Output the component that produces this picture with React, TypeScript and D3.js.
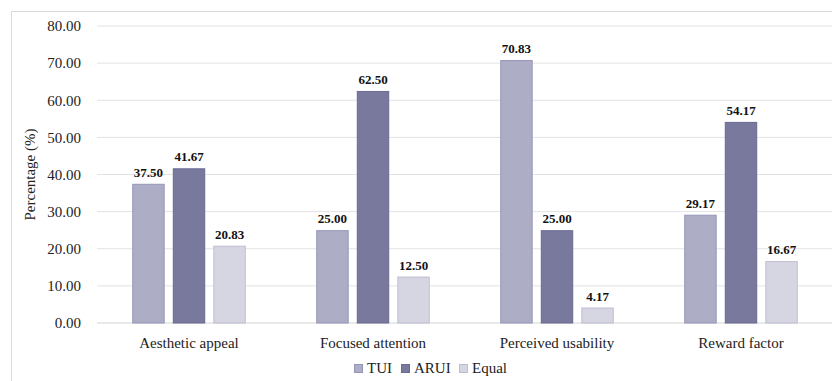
import React from "react";
import * as d3 from "d3";

const categories = ["Aesthetic appeal", "Focused attention", "Perceived usability", "Reward factor"];
const seriesNames = ["TUI", "ARUI", "Equal"];
const tuiValues = [37.5, 25.0, 70.83, 29.17];
const aruiValues = [41.67, 62.5, 25.0, 54.17];
const equalValues = [20.83, 12.5, 4.17, 16.67];
const yTicks = [0, 10, 20, 30, 40, 50, 60, 70, 80];

const fills = ["#adadc6", "#79799e", "#d6d6e3"];
const strokes = ["#9595b8", "#6a6a92", "#bdbdd2"];

const W = 832;
const H = 381;
const FONT = "Liberation Serif, DejaVu Serif, serif";

export default function App() {
  const left = 97;
  const right = 833;
  const top = 26;
  const bottom = 323;

  const x = d3.scaleBand<string>().domain(categories).range([left, right]).paddingInner(0).paddingOuter(0);
  const y = d3.scaleLinear().domain([0, 80]).range([bottom, top]);
  const inner = d3
    .scaleBand<string>()
    .domain(seriesNames)
    .range([0, 113.5])
    .paddingInner(0.2)
    .paddingOuter(0);

  const series = [tuiValues, aruiValues, equalValues];

  const legendItems = [
    { name: "TUI", x: 354 },
    { name: "ARUI", x: 401 },
    { name: "Equal", x: 459 },
  ];

  return (
    <svg width={W} height={H} style={{ position: "absolute", left: 0, top: 0, background: "#fff", fontFamily: FONT }}>
      <rect x={11.5} y={11.5} width={W + 10} height={H + 10} fill="#fff" stroke="#d9d9d9" />
      {yTicks.map((t) => (
        <g key={t}>
          <line x1={left} x2={right} y1={y(t)} y2={y(t)} stroke={t === 0 ? "#d4d4d4" : "#e2e2e2"} strokeWidth={1} />
          <text x={81} y={y(t)} dy="0.35em" textAnchor="end" style={{ fontFamily: FONT }} fontSize={15} fill="#222">
            {t.toFixed(2)}
          </text>
        </g>
      ))}
      <text
        transform={`translate(30,${(top + bottom) / 2}) rotate(-90)`}
        textAnchor="middle"
        dy="0.35em"
        style={{ fontFamily: FONT }}
        fontSize={15}
        fill="#222"
      >
        Percentage (%)
      </text>
      {categories.map((c, ci) => {
        const cx = (x(c) as number) + x.bandwidth() / 2;
        const gx = cx - 113.5 / 2;
        return (
          <g key={c}>
            {seriesNames.map((s, si) => {
              const v = series[si][ci];
              const bx = gx + (inner(s) as number);
              const bw = inner.bandwidth();
              return (
                <g key={s}>
                  <rect
                    x={bx + 0.5}
                    y={y(v) + 0.5}
                    width={bw - 1}
                    height={y(0) - y(v) - 0.5}
                    fill={fills[si]}
                    stroke={strokes[si]}
                    strokeWidth={1}
                  />
                  <text
                    x={bx + bw / 2}
                    y={y(v) - 7}
                    textAnchor="middle"
                    style={{ fontFamily: FONT }}
                    fontSize={13}
                    fontWeight="bold"
                    fill="#111"
                  >
                    {v.toFixed(2)}
                  </text>
                </g>
              );
            })}
            <text x={cx} y={348} textAnchor="middle" style={{ fontFamily: FONT }} fontSize={15} fill="#222">
              {c}
            </text>
          </g>
        );
      })}
      {legendItems.map((it, i) => (
        <g key={it.name}>
          <rect x={it.x + 0.5} y={364.5} width={8} height={8} fill={fills[i]} stroke={strokes[i]} />
          <text x={it.x + 13} y={373} style={{ fontFamily: FONT }} fontSize={15} fill="#222">
            {it.name}
          </text>
        </g>
      ))}
    </svg>
  );
}
